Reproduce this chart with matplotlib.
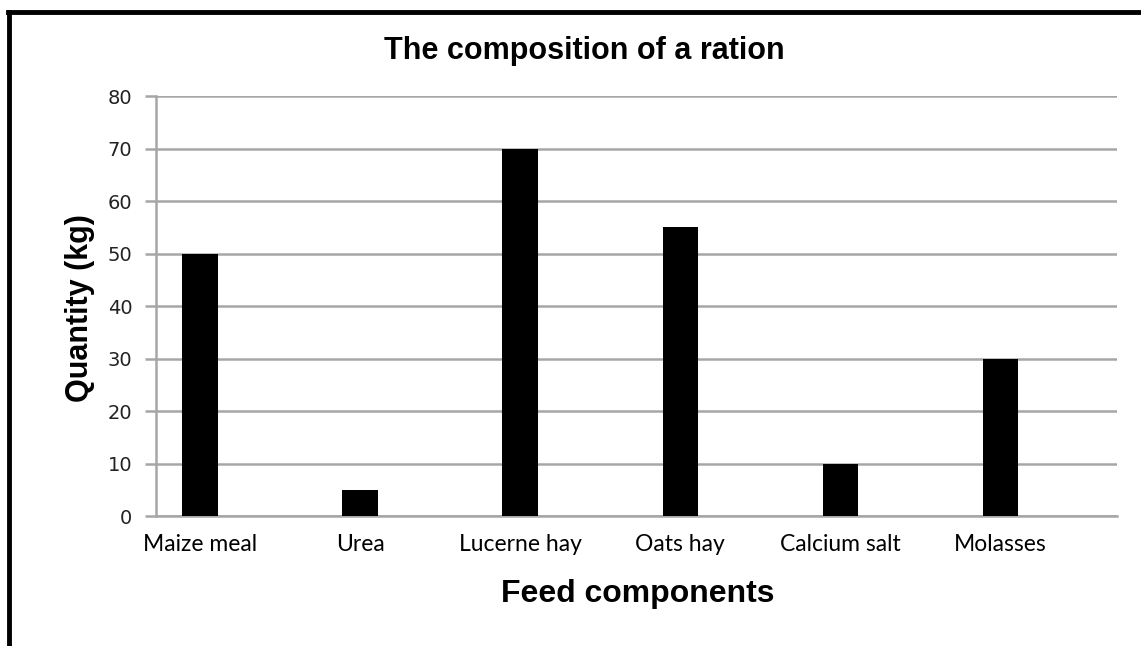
import matplotlib.pyplot as plt
from matplotlib.lines import Line2D

# data
components = ["Maize meal", "Urea", "Lucerne hay", "Oats hay", "Calcium salt", "Molasses"]
quantity_kg = [50, 5, 70, 55, 10, 30]
y_ticks = [0, 10, 20, 30, 40, 50, 60, 70, 80]

fig = plt.figure(figsize=(11.41, 6.46), dpi=100)
ax = fig.add_axes([0.1367, 0.2012, 0.9790 - 0.1367, 0.851 - 0.2012])

grid_col = "#a6a6a6"
pos = list(range(len(components)))
ax.bar(pos, quantity_kg, width=0.22, color="black", zorder=3)

ax.set_xlim(-0.275, 5.73)
ax.set_ylim(0, 80)
ax.set_yticks(y_ticks)
ax.set_yticklabels([str(t) for t in y_ticks], fontsize=14, color="#222222",
                   family="DejaVu Sans")
ax.set_xticks(pos)
ax.set_xticklabels(components, fontsize=16.5, family="Lato")
ax.tick_params(axis="x", length=0, pad=13)
ax.tick_params(axis="y", length=8, width=1.8, color=grid_col, pad=9)

ax.yaxis.grid(True, color=grid_col, linewidth=1.8, zorder=0)
for s in ["top", "right"]:
    ax.spines[s].set_visible(False)
ax.spines["left"].set_color(grid_col)
ax.spines["left"].set_linewidth(1.8)
ax.spines["bottom"].set_color(grid_col)
ax.spines["bottom"].set_linewidth(1.8)

fig.text(584 / 1141, 1 - 51 / 646, "The composition of a ration", ha="center", va="center",
         fontsize=22, fontweight="bold", family="Liberation Sans")
fig.text(80 / 1141, 1 - 308 / 646, "Quantity (kg)", ha="center", va="center",
         rotation=90, fontsize=22, fontweight="bold", family="Liberation Sans")
fig.text(638 / 1141, 1 - 594 / 646, "Feed components", ha="center", va="center",
         fontsize=23, fontweight="bold", family="Liberation Sans")

# black frame on left and top
fig.add_artist(Line2D([9 / 1141, 9 / 1141], [0, 1 - 12 / 646], color="black",
                      linewidth=3.5, transform=fig.transFigure))
fig.add_artist(Line2D([7.5 / 1141, 1], [1 - 12 / 646, 1 - 12 / 646], color="black",
                      linewidth=3.5, transform=fig.transFigure))

fig.savefig("out.png", dpi=100)
